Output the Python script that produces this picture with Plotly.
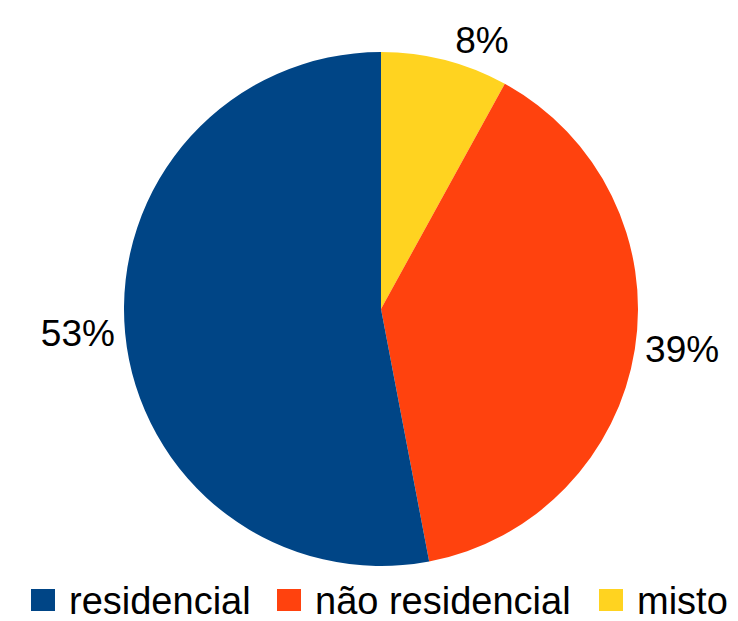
import plotly.graph_objects as go

# Share of each use category (legend order)
categories = ["residencial", "não residencial", "misto"]
shares = [53, 39, 8]
colors = ["#004586", "#ff420e", "#ffd320"]

W, H = 738, 621
FONT = "Liberation Sans, Arial, sans-serif"

# Pie geometry (pixels)
cx, cy, r = 381, 309, 257

# Slices run clockwise from 12 o'clock starting with the last category
fig = go.Figure()
fig.add_trace(go.Pie(
    labels=categories[::-1],
    values=shares[::-1],
    sort=False,
    direction="clockwise",
    rotation=0,
    marker=dict(colors=colors[::-1], line=dict(width=0)),
    textinfo="percent",
    textposition="outside",
    textfont=dict(size=37, color="#000000", family=FONT),
    showlegend=False,
    domain=dict(x=[(cx - r) / W, (cx + r) / W],
                y=[(H - cy - r) / H, (H - cy + r) / H]),
    hoverinfo="label+percent",
))

# Custom legend row under the pie: colour swatch followed by its label
legend_x = [31, 277, 599]
sw, sh = 24, 22
row_mid = 600
for name, col, x0 in zip(categories, colors, legend_x):
    fig.add_shape(type="rect", xref="paper", yref="paper",
                  x0=x0 / W, x1=(x0 + sw) / W,
                  y0=(H - row_mid - sh / 2) / H, y1=(H - row_mid + sh / 2) / H,
                  fillcolor=col, line=dict(width=0))
    fig.add_annotation(x=(x0 + sw + 12) / W, y=(H - row_mid - 1) / H,
                       xref="paper", yref="paper",
                       xanchor="left", yanchor="middle",
                       text=name, showarrow=False,
                       font=dict(size=38, color="#000000", family=FONT))

fig.update_layout(
    width=W, height=H,
    margin=dict(l=0, r=0, t=0, b=0),
    paper_bgcolor="#ffffff",
    plot_bgcolor="#ffffff",
)

fig.write_html("out.html")
